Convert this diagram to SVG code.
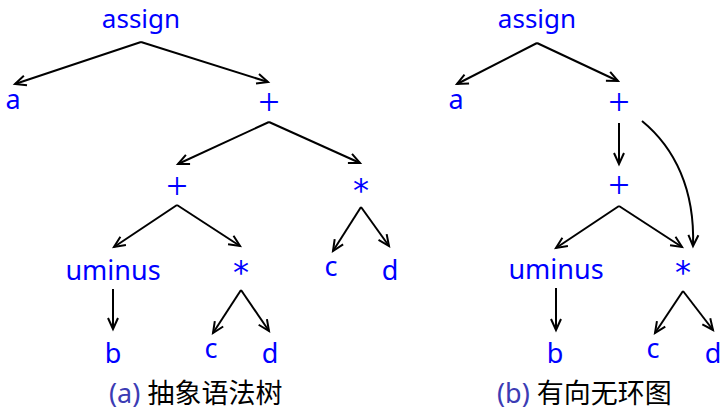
<svg xmlns="http://www.w3.org/2000/svg" width="720" height="412" viewBox="0 0 720 412">
<style>
.lbl{font-family:"Noto Sans","Open Sans",sans-serif;font-size:27px;fill:#0000ff;text-anchor:middle}
.top{font-size:26px}
.plus{font-family:"Liberation Serif",serif;font-size:38px;fill:#0000ff;text-anchor:middle}
.star{font-family:"DejaVu Sans",sans-serif;font-size:32px;fill:#0000ff;text-anchor:middle}
.cap{font-family:"Noto Sans","Noto Sans CJK SC",sans-serif;font-size:27px;fill:#000}
.capl{fill:#3c3cb4}
.e{fill:none;stroke:#000;stroke-width:2;marker-end:url(#ah)}
</style>
<defs>
<marker id="ah" markerUnits="userSpaceOnUse" markerWidth="14" markerHeight="14" refX="11" refY="6" orient="auto" overflow="visible">
<path d="M0,1 L11,6 L0,11" fill="none" stroke="#000" stroke-width="2"/>
</marker>
</defs>
<g id="edges">
<line class="e" x1="141" y1="42" x2="15" y2="84"/>
<line class="e" x1="141" y1="42" x2="268" y2="82"/>
<line class="e" x1="269" y1="122" x2="178" y2="164"/>
<line class="e" x1="269" y1="122" x2="360" y2="163"/>
<line class="e" x1="177" y1="205" x2="114" y2="247"/>
<line class="e" x1="177" y1="205" x2="240" y2="246"/>
<line class="e" x1="113" y1="289" x2="113" y2="329"/>
<line class="e" x1="241" y1="290" x2="213" y2="333"/>
<line class="e" x1="241" y1="290" x2="269" y2="331"/>
<line class="e" x1="361" y1="207" x2="333" y2="251"/>
<line class="e" x1="361" y1="207" x2="389" y2="246"/>
<line class="e" x1="537" y1="43" x2="457" y2="84"/>
<line class="e" x1="537" y1="43" x2="618" y2="81"/>
<line class="e" x1="619" y1="123" x2="619" y2="164"/>
<path class="e" d="M642,121 C675,148 695,190 693,246"/>
<line class="e" x1="619" y1="206" x2="556" y2="248"/>
<line class="e" x1="619" y1="206" x2="682" y2="247"/>
<line class="e" x1="556" y1="288" x2="556" y2="330"/>
<line class="e" x1="683" y1="291" x2="655" y2="333"/>
<line class="e" x1="683" y1="291" x2="713" y2="330"/>
</g>
<g id="a-assign"><text class="lbl top" x="141" y="28">assign</text></g>
<g id="a-a"><text class="lbl" x="13" y="109">a</text></g>
<g id="a-plus1"><text class="plus" x="269" y="115">+</text></g>
<g id="a-plus2"><text class="plus" x="177" y="199">+</text></g>
<g id="a-star1"><text class="star" x="361" y="201">*</text></g>
<g id="a-uminus"><text class="lbl" x="113" y="280">uminus</text></g>
<g id="a-star2"><text class="star" x="241" y="283">*</text></g>
<g id="a-b"><text class="lbl" x="113" y="363">b</text></g>
<g id="a-c1"><text class="lbl" x="211" y="358">c</text></g>
<g id="a-d1"><text class="lbl" x="270" y="363">d</text></g>
<g id="a-c2"><text class="lbl" x="331" y="276">c</text></g>
<g id="a-d2"><text class="lbl" x="390" y="280">d</text></g>
<g id="b-assign"><text class="lbl top" x="537" y="28">assign</text></g>
<g id="b-a"><text class="lbl" x="456" y="109">a</text></g>
<g id="b-plus1"><text class="plus" x="619" y="115">+</text></g>
<g id="b-plus2"><text class="plus" x="619" y="198">+</text></g>
<g id="b-uminus"><text class="lbl" x="556" y="279">uminus</text></g>
<g id="b-star"><text class="star" x="683" y="283">*</text></g>
<g id="b-b"><text class="lbl" x="555" y="363">b</text></g>
<g id="b-c"><text class="lbl" x="653" y="358">c</text></g>
<g id="b-d"><text class="lbl" x="713" y="363">d</text></g>
<g id="captions">
<text class="cap" x="109" y="403"><tspan class="capl">(a)</tspan> 抽象语法树</text>
<text class="cap" x="497" y="403"><tspan class="capl">(b)</tspan> 有向无环图</text>
</g>
</svg>
